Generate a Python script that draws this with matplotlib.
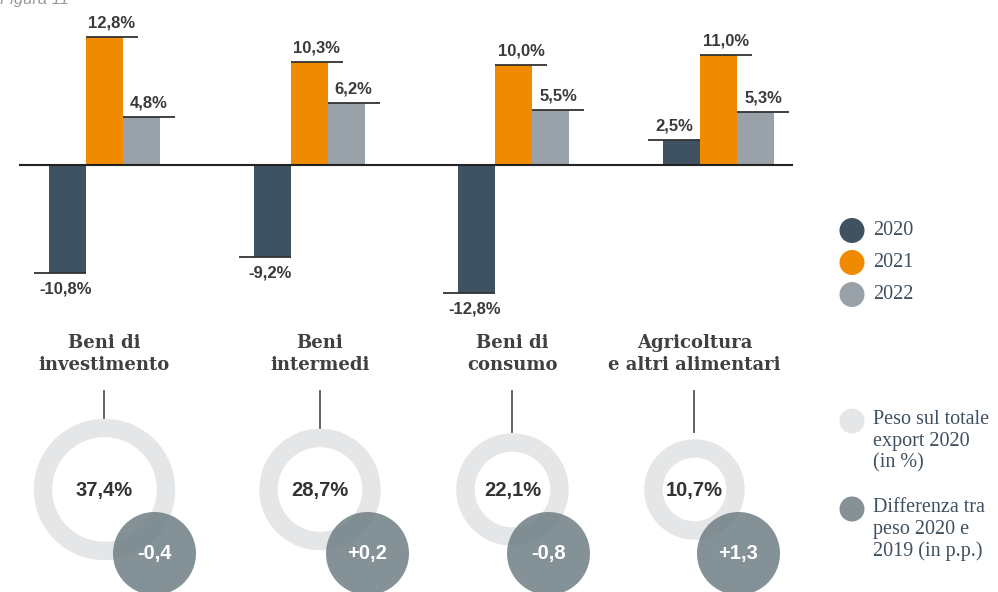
import matplotlib.pyplot as plt
from matplotlib.patches import Wedge, Circle

# data
categories = ["Beni di\ninvestimento", "Beni\nintermedi", "Beni di\nconsumo",
              "Agricoltura\ne altri alimentari"]
years = ["2020", "2021", "2022"]
v2020 = [-10.8, -9.2, -12.8, 2.5]
v2021 = [12.8, 10.3, 10.0, 11.0]
v2022 = [4.8, 6.2, 5.5, 5.3]
peso_2020 = [37.4, 28.7, 22.1, 10.7]
diff_2019 = [-0.4, 0.2, -0.8, 1.3]

colors = ["#3f5262", "#f08a00", "#98a2a8"]
ring_col = "#e5e6e8"
dot_col = "#6f7f86"

W, H = 998, 592
fig = plt.figure(figsize=(W / 100, H / 100), dpi=100)

def fmt(v):
    return f"{v:.1f}%".replace(".", ",")

# ---- bar chart (top 330 px) ----
ax = fig.add_axes([0, 1 - 330 / H, 1, 330 / H])
ax.patch.set_alpha(0)
ax.axis("off")
gap = 204.7
x0 = 104.5
ax.set_xlim(-x0 / gap, (W - x0) / gap)
ax.set_ylim(-16.5, 16.5)
bw = 37 / gap
ext = 15 / gap

for j, vals in enumerate([v2020, v2021, v2022]):
    off = (j - 1) * bw
    for i, v in enumerate(vals):
        xc = i + off
        ax.bar(xc, v, width=bw, color=colors[j], zorder=2)
        if j == 0:
            l0, l1 = xc - bw / 2 - ext, xc + bw / 2
        else:
            l0, l1 = xc - bw / 2, xc + bw / 2 + ext
        ax.hlines(v, l0, l1, color="#333333", lw=1.3, zorder=3)
        if v >= 0:
            ax.annotate(fmt(v), ((l0 + l1) / 2, v), xytext=(0, 5),
                        textcoords="offset points", ha="center", va="bottom",
                        fontsize=12, fontweight="bold", color="#3a3a3a",
                        family="Liberation Sans")
        else:
            ax.annotate(fmt(v), (xc - 2 / gap, v), xytext=(0, -6),
                        textcoords="offset points", ha="center", va="top",
                        fontsize=12, fontweight="bold", color="#3a3a3a",
                        family="Liberation Sans")

ax.hlines(0, (19 - x0) / gap, (793 - x0) / gap, color="#222222", lw=1.5, zorder=4)

# ---- overlay in pixel coordinates ----
ov = fig.add_axes([0, 0, 1, 1])
ov.patch.set_alpha(0)
ov.axis("off")
ov.set_xlim(0, W)
ov.set_ylim(H, 0)

ov.text(0, 4, "Figura 11", fontsize=12, style="italic", color="#9a9a9a",
        family="Liberation Sans", va="baseline", ha="left")

ring_x = [104.5, 320, 512.5, 694.5]
ring_r = [70, 60, 55.5, 49.5]
dot_dx = [50, 47.5, 36, 44]
ring_y = 489.5
dot_y = 553.5
dot_r = 41.5

for i, cat in enumerate(categories):
    cx = ring_x[i]
    ov.text(cx, 354, cat, ha="center", va="center", fontsize=13,
            fontweight="bold", color="#404040", family="DejaVu Serif",
            linespacing=1.25)
    ov.plot([cx, cx], [391, 432], color="#555555", lw=1.3, zorder=1)
    ov.add_patch(Wedge((cx, ring_y), ring_r[i], 0, 360, width=17,
                       color=ring_col, zorder=2))
    ov.text(cx, ring_y + 1, fmt(peso_2020[i]), ha="center", va="center",
            fontsize=14.5, fontweight="bold", color="#333333",
            family="Liberation Sans", zorder=5)
    ov.add_patch(Circle((cx + dot_dx[i], dot_y), dot_r, color=dot_col,
                        alpha=0.85, lw=0, zorder=3))
    d = diff_2019[i]
    ov.text(cx + dot_dx[i], dot_y, f"{d:+.1f}".replace(".", ","),
            ha="center", va="center", fontsize=14.5, fontweight="bold",
            color="white", family="Liberation Sans", zorder=5)

# legends
leg_col = "#3f5060"
serif = "Liberation Serif"
for k, (yr, c) in enumerate(zip(years, colors)):
    y = 230.5 + k * 32
    ov.add_patch(Circle((852, y), 12.5, color=c, lw=0))
    ov.text(873, y, yr, va="center", ha="left", fontsize=14.5,
            color=leg_col, family=serif)

ov.add_patch(Circle((852, 421), 12.5, color=ring_col, lw=0))
ov.text(873, 410, "Peso sul totale\nexport 2020\n(in %)", va="top",
        ha="left", fontsize=14.5, color=leg_col, family=serif, linespacing=1.18)
ov.add_patch(Circle((852, 509), 12.5, color="#869196", lw=0))
ov.text(873, 498, "Differenza tra\npeso 2020 e\n2019 (in p.p.)", va="top",
        ha="left", fontsize=14.5, color=leg_col, family=serif, linespacing=1.18)

plt.savefig("out.png", dpi=100)
